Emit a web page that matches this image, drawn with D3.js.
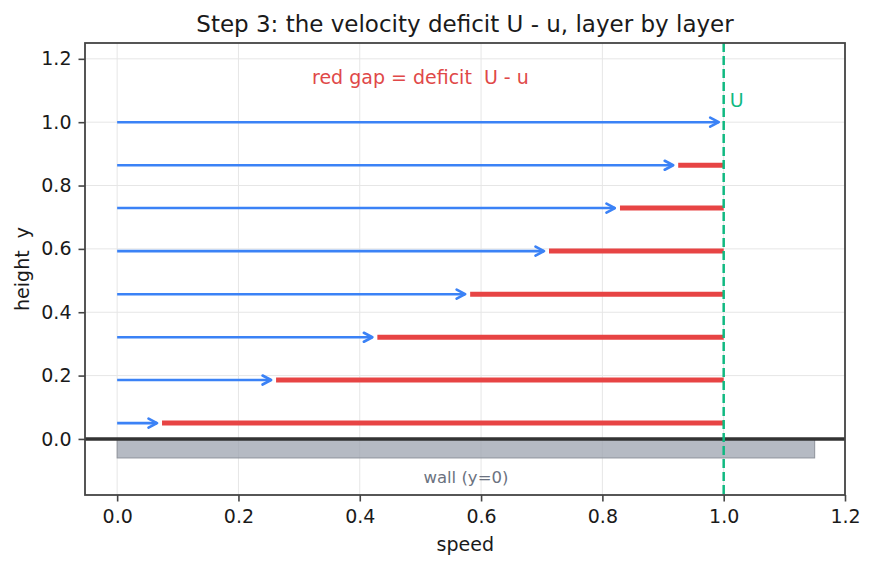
<!DOCTYPE html>
<html>
<head>
<meta charset="utf-8">
<title>velocity deficit</title>
<script src="https://cdn.jsdelivr.net/npm/d3@7"></script>
<style>
  body { margin: 0; background: #fff; }
  svg text { font-family: 'DejaVu Sans', sans-serif; white-space: pre; }
  .tick text { font-size: 19px; fill: #1a1a1a; }
  .tick line { stroke: #444; stroke-width: 1.6; }
</style>
</head>
<body>
<div id="chart"></div>
<script>
// layer heights and speeds
var heights = [0.05, 0.186, 0.321, 0.457, 0.593, 0.729, 0.864, 1.0];
var speeds  = [0.074, 0.262, 0.429, 0.582, 0.712, 0.829, 0.925, 1.0];
var U = 1.0;
var xTicks = [0.0, 0.2, 0.4, 0.6, 0.8, 1.0, 1.2];
var yTicks = [0.0, 0.2, 0.4, 0.6, 0.8, 1.0, 1.2];

var width = 874, height = 569;
var m = {left: 85, right: 29, top: 43, bottom: 74};

var x = d3.scaleLinear().domain([-0.053, 1.2]).range([m.left, width - m.right]);
var y = d3.scaleLinear().domain([-0.177, 1.25]).range([height - m.bottom, m.top]);

var svg = d3.select("#chart").append("svg")
  .attr("width", width).attr("height", height);

svg.append("defs").append("marker")
  .attr("id", "head")
  .attr("viewBox", "0 0 12 12")
  .attr("refX", 10.5).attr("refY", 6)
  .attr("markerWidth", 12).attr("markerHeight", 12)
  .attr("markerUnits", "userSpaceOnUse")
  .attr("orient", "auto")
  .append("path")
  .attr("d", "M2,1.5 L10.5,6 L2,10.5")
  .attr("fill", "none")
  .attr("stroke", "#3b82f6")
  .attr("stroke-width", 2.6)
  .attr("stroke-linecap", "round")
  .attr("stroke-linejoin", "round");

// grid
var grid = svg.append("g");
grid.selectAll(".gx").data(xTicks).enter().append("line")
  .attr("x1", d => x(d)).attr("x2", d => x(d))
  .attr("y1", m.top).attr("y2", height - m.bottom)
  .attr("stroke", "#e6e6e6").attr("stroke-width", 1);
grid.selectAll(".gy").data(yTicks).enter().append("line")
  .attr("y1", d => y(d)).attr("y2", d => y(d))
  .attr("x1", m.left).attr("x2", width - m.right)
  .attr("stroke", "#e6e6e6").attr("stroke-width", 1);

// wall
svg.append("rect")
  .attr("x", x(0)).attr("y", y(0))
  .attr("width", x(1.15) - x(0)).attr("height", y(-0.06) - y(0))
  .attr("fill", "#9ca3af").attr("fill-opacity", 0.75)
  .attr("stroke", "#8e939b").attr("stroke-width", 1);
svg.append("text")
  .attr("x", x(0.575)).attr("y", y(-0.12))
  .attr("dy", "0.35em")
  .attr("text-anchor", "middle")
  .attr("fill", "#6b7280")
  .style("font-size", "16.5px")
  .text("wall (y=0)");

svg.append("line")
  .attr("x1", m.left).attr("x2", width - m.right)
  .attr("y1", y(0)).attr("y2", y(0))
  .attr("stroke", "#333").attr("stroke-width", 3.5);

// deficit segments
svg.selectAll(".gap").data(heights).enter().append("line")
  .filter((d, i) => speeds[i] < U)
  .attr("x1", (d, i) => x(speeds[i])).attr("x2", x(U))
  .attr("y1", d => y(d)).attr("y2", d => y(d))
  .attr("stroke", "#e74444").attr("stroke-width", 5);

// velocity arrows
svg.selectAll(".arr").data(heights).enter().append("line")
  .attr("x1", x(0))
  .attr("x2", (d, i) => x(speeds[i]) - 5)
  .attr("y1", d => y(d)).attr("y2", d => y(d))
  .attr("stroke", "#3b82f6").attr("stroke-width", 2.6)
  .attr("marker-end", "url(#head)");

// free stream line
svg.append("line")
  .attr("x1", x(U)).attr("x2", x(U))
  .attr("y1", m.top).attr("y2", height - m.bottom)
  .attr("stroke", "#10b981").attr("stroke-width", 2.5)
  .attr("stroke-dasharray", "9,4");
svg.append("text")
  .attr("x", x(1.01)).attr("y", y(1.07))
  .attr("dy", "0.35em")
  .attr("fill", "#10b981")
  .style("font-size", "19px")
  .text("U");

svg.append("text")
  .attr("x", x(0.5)).attr("y", y(1.14))
  .attr("dy", "0.35em")
  .attr("text-anchor", "middle")
  .attr("fill", "#e04848")
  .style("font-size", "19px")
  .text("red gap = deficit  U - u");

// axes
svg.append("g")
  .attr("transform", "translate(0," + (height - m.bottom) + ")")
  .call(d3.axisBottom(x).tickValues(xTicks).tickFormat(d3.format(".1f")).tickSize(6.5).tickPadding(8))
  .call(g => g.select(".domain").remove());
svg.append("g")
  .attr("transform", "translate(" + m.left + ",0)")
  .call(d3.axisLeft(y).tickValues(yTicks).tickFormat(d3.format(".1f")).tickSize(6.5).tickPadding(7))
  .call(g => g.select(".domain").remove());

svg.append("rect")
  .attr("x", m.left).attr("y", m.top)
  .attr("width", width - m.left - m.right).attr("height", height - m.top - m.bottom)
  .attr("fill", "none").attr("stroke", "#444").attr("stroke-width", 1.8);

svg.append("text")
  .attr("x", x(0.574)).attr("y", 551)
  .attr("text-anchor", "middle")
  .style("font-size", "19px").attr("fill", "#1a1a1a")
  .text("speed");
svg.append("text")
  .attr("transform", "translate(29," + ((m.top + height - m.bottom) / 2) + ") rotate(-90)")
  .attr("text-anchor", "middle")
  .style("font-size", "19px").attr("fill", "#1a1a1a")
  .text("height  y");

svg.append("text")
  .attr("x", (m.left + width - m.right) / 2).attr("y", 32)
  .attr("text-anchor", "middle")
  .style("font-size", "23px").attr("fill", "#1a1a1a")
  .text("Step 3: the velocity deficit U - u, layer by layer");
</script>
</body>
</html>
